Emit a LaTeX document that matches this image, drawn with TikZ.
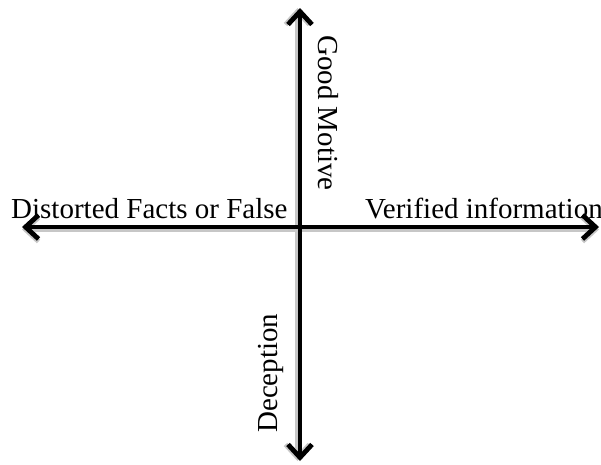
\documentclass[tikz,border=0pt]{standalone}
\usepackage{fontspec}
\setmainfont{Liberation Serif}
\usetikzlibrary{arrows.meta}
\begin{document}
\begin{tikzpicture}[x=1pt,y=-1pt,
  axis/.style={line width=4.8pt,{Straight Barb[length=13pt,width=24pt,line width=4.8pt]}-{Straight Barb[length=13pt,width=24pt,line width=4.8pt]}},
  shadowline/.style={axis,draw=black!22},
  lbl/.style={inner sep=0pt,font=\fontsize{29}{34}\selectfont}]
\useasboundingbox (0,0) rectangle (601,464);
\coordinate (top) at (300,8);
\coordinate (bottom) at (300,461);
\coordinate (left) at (22,227);
\coordinate (right) at (599,227);
\node[lbl,anchor=base west] (neg) at (11,218) {Distorted Facts or False};
\node[lbl,anchor=base west] (pos) at (365,218) {Verified information};
\node[lbl,anchor=base west,rotate=-90] (good) at (318,35) {Good Motive};
\node[lbl,anchor=base west,rotate=90] (dec) at (277,433) {Deception};
\draw[shadowline,transform canvas={xshift=-2.5pt}] (bottom) -- (top);
\draw[shadowline,transform canvas={yshift=-2.5pt}] (left) -- (right);
\draw[axis] (bottom) -- (top);
\draw[axis] (left) -- (right);
\end{tikzpicture}
\end{document}
